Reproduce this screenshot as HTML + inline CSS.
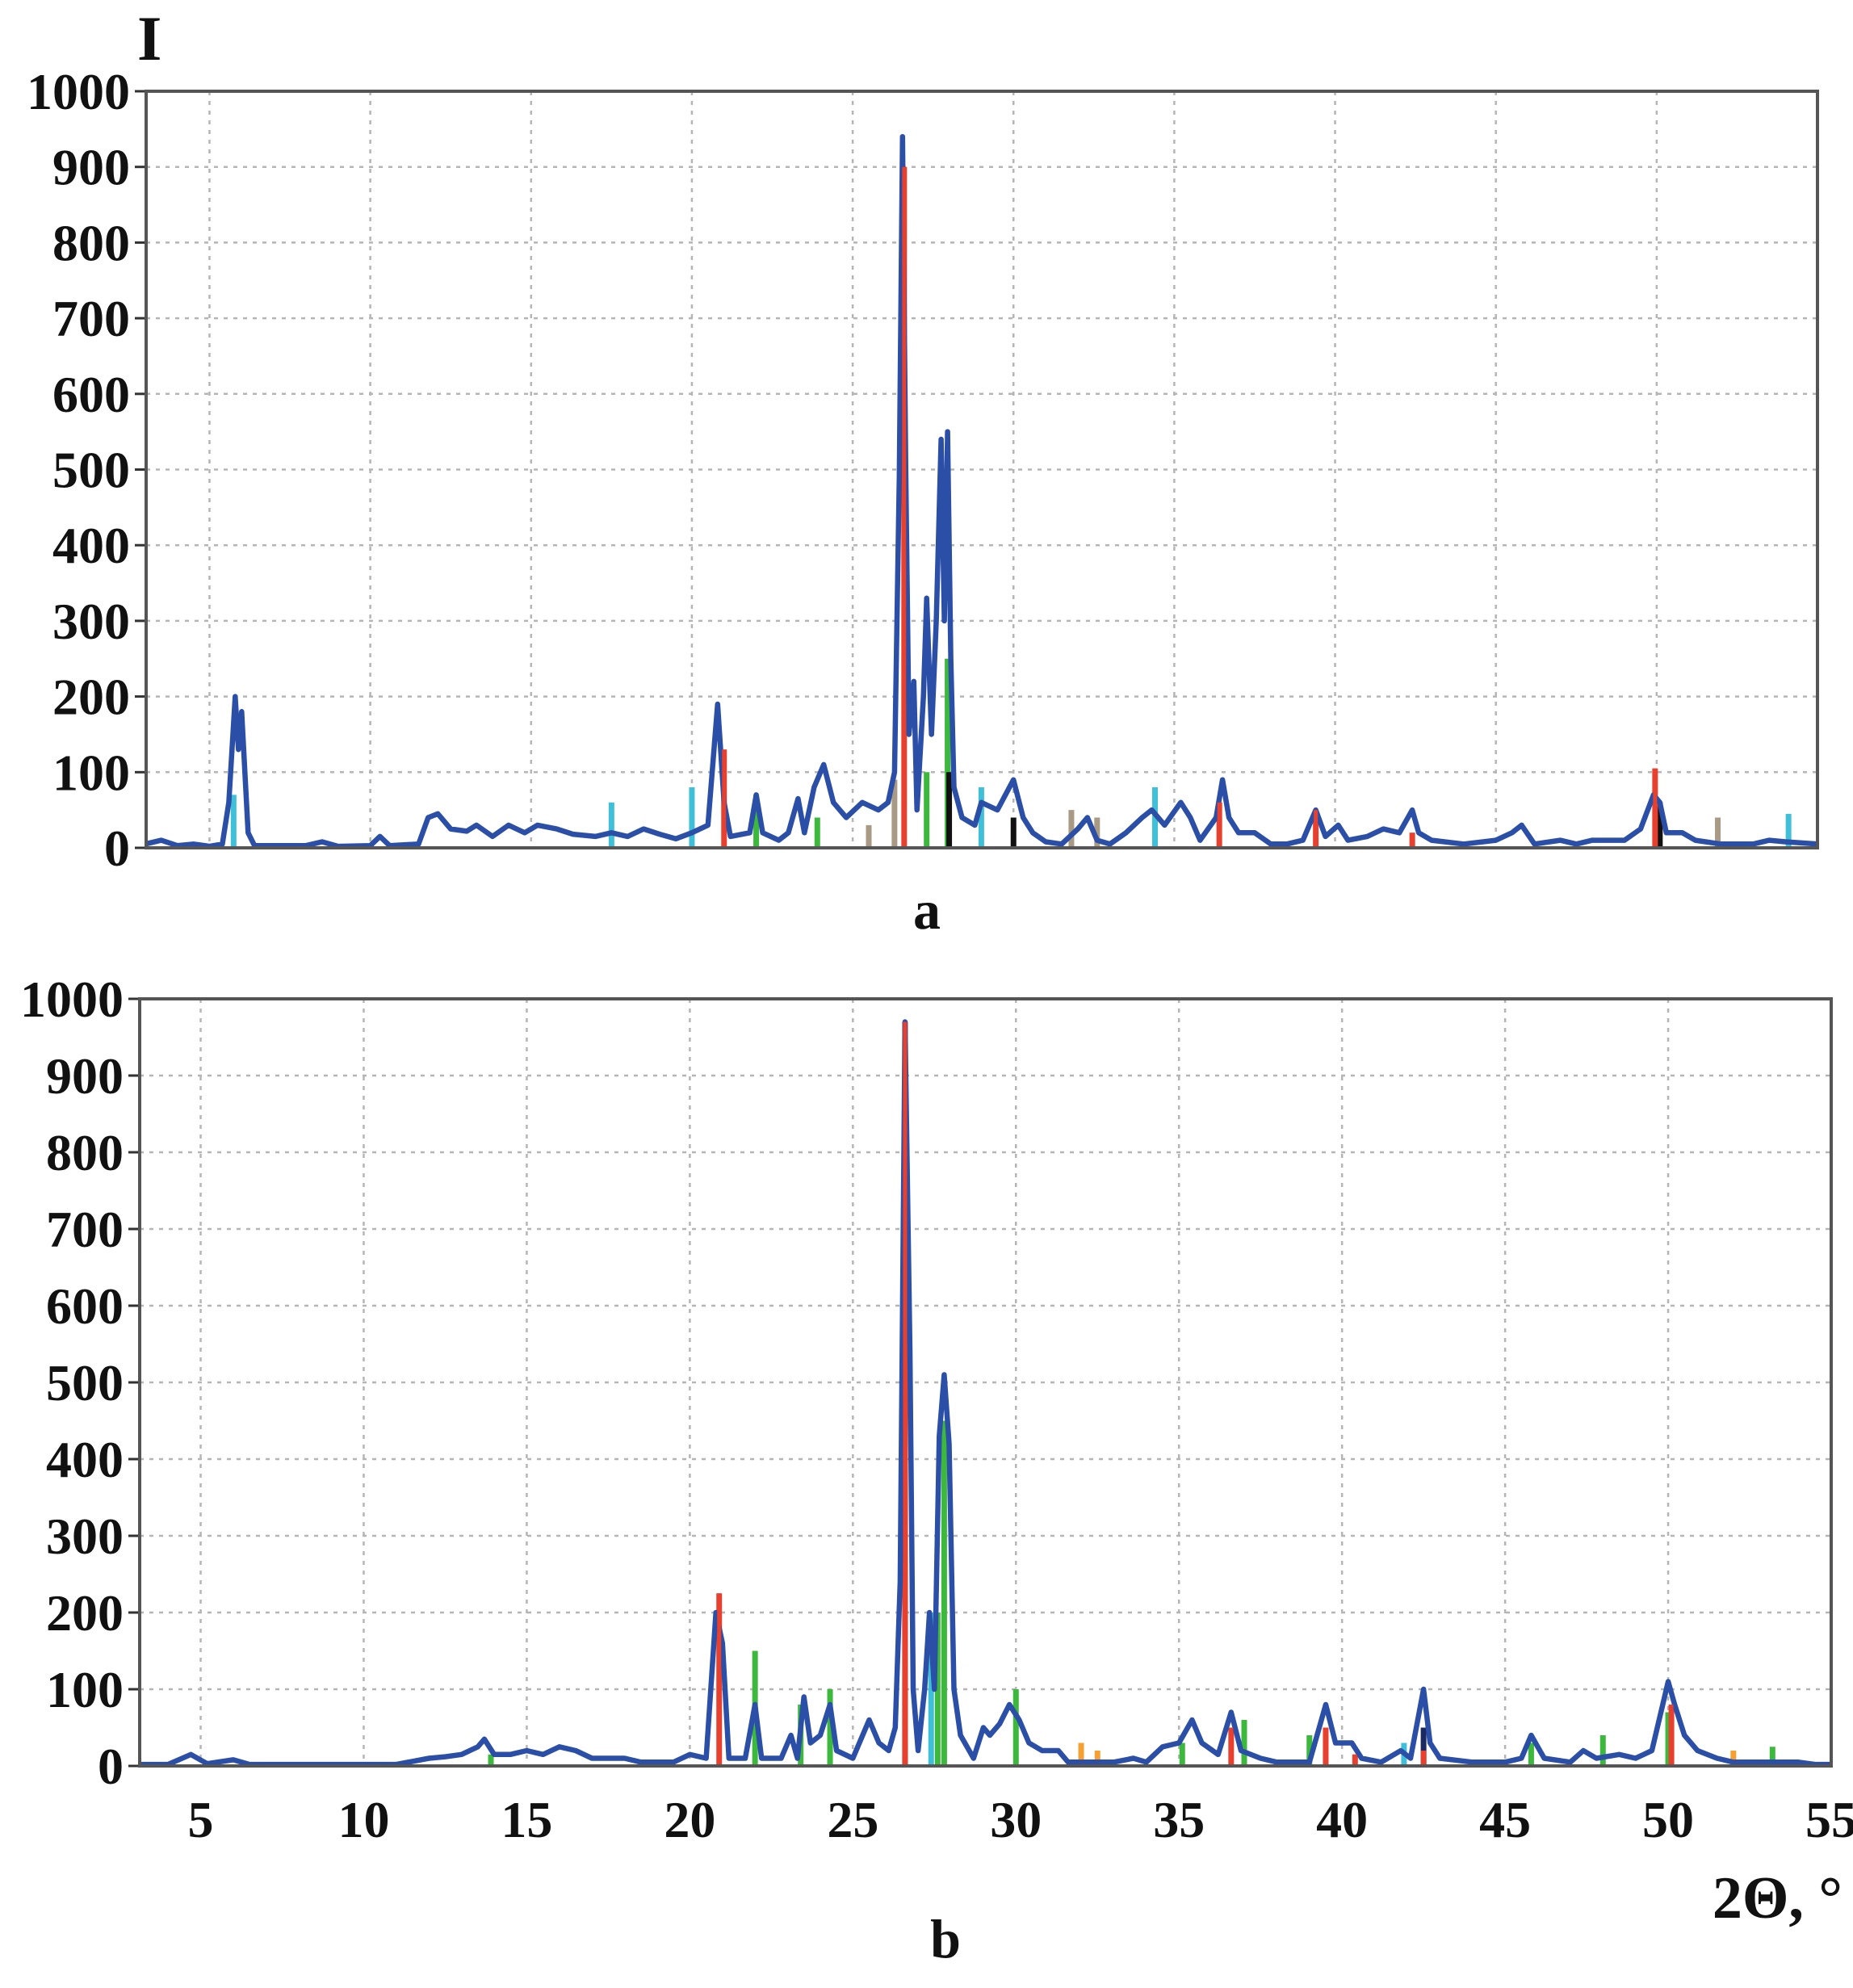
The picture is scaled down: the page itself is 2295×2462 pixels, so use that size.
<!DOCTYPE html>
<html><head><meta charset="utf-8">
<style>
html,body{margin:0;padding:0;background:#fff;}
svg{display:block;}
text{font-family:"Liberation Serif",serif;font-weight:bold;fill:#111;}
</style></head>
<body>
<svg id="chart" width="2295" height="2462" viewBox="0 0 2295 2462" xmlns="http://www.w3.org/2000/svg">
<text x="170" y="74" font-size="78">I</text>
<text x="1148" y="1150" font-size="68" text-anchor="middle">a</text>
<text x="1171" y="2424" font-size="68" text-anchor="middle">b</text>
<text x="2282" y="2375" font-size="74" text-anchor="end">2Θ, °</text>
</svg>
<script>
const yTicks=[0,100,200,300,400,500,600,700,800,900,1000];
const xTicks=[5,10,15,20,25,30,35,40,45,50,55];
// Panel a profile
const aX=[3.0,3.5,4.0,4.5,5.0,5.4,5.6,5.8,5.9,6.0,6.2,6.4,8,8.5,9,10,10.3,10.6,11.5,11.8,12.1,12.5,13,13.3,13.8,14.3,14.8,15.2,15.8,16.3,17,17.5,18,18.5,19,19.5,20,20.5,20.8,21.0,21.2,21.8,22.0,22.2,22.7,23.0,23.3,23.5,23.8,24.1,24.4,24.8,25.3,25.8,26.1,26.3,26.45,26.55,26.65,26.75,26.9,27.0,27.2,27.3,27.45,27.6,27.75,27.85,27.95,28.05,28.15,28.4,28.8,29.0,29.5,30.0,30.3,30.6,31,31.5,32,32.3,32.6,33,33.5,34,34.3,34.7,35.2,35.5,35.8,36.3,36.5,36.7,37,37.5,38,38.5,39.0,39.4,39.7,40.1,40.4,41,41.5,42,42.4,42.6,43,44,45,45.5,45.8,46.2,47,47.5,48,49,49.5,49.9,50.1,50.3,50.8,51.2,52,53,53.5,54,55];
const aY=[5,10,3,5,2,5,60,200,130,180,20,3,3,8,2,3,15,3,5,40,45,25,22,30,15,30,20,30,25,18,15,20,15,25,18,12,20,30,190,60,15,20,70,20,10,20,65,20,80,110,60,40,60,50,60,100,490,940,500,150,220,50,200,330,150,300,540,300,550,250,80,40,30,60,50,90,40,20,8,5,25,40,10,5,20,40,50,30,60,40,10,40,90,40,20,20,5,5,10,50,15,30,10,15,25,20,50,20,10,5,10,20,30,5,10,5,10,10,25,70,60,20,20,10,5,5,10,8,5];
const aRedX=[21.0,26.6,36.4,39.4,42.4,49.95];
const aRedY=[130,900,60,50,20,105];
const aGreenX=[22.0,23.9,27.95,27.3];
const aGreenY=[70,40,250,100];
const aCyanX=[5.75,17.5,20.0,29.0,34.4,54.1];
const aCyanY=[70,60,80,80,80,45];
const aGrayX=[25.5,26.3,31.8,32.6,51.9];
const aGrayY=[30,90,50,40,40];
const aBlackX=[28.0,30.0,50.1];
const aBlackY=[100,40,60];
// Panel b profile
const bX=[3.1,4,4.7,5.2,6,6.5,8,9,10,11,12,12.5,13,13.5,13.7,14,14.5,15,15.5,16,16.5,17,18,18.5,19.5,20,20.5,20.8,21.0,21.2,21.7,22.0,22.2,22.8,23.1,23.3,23.5,23.7,24.0,24.3,24.5,25,25.5,25.8,26.1,26.3,26.45,26.6,26.75,26.85,27.0,27.2,27.35,27.5,27.65,27.8,27.95,28.1,28.3,28.7,29.0,29.2,29.5,29.8,30.1,30.4,30.8,31.3,31.6,32,33,33.6,34,34.5,35,35.4,35.7,36.2,36.6,36.9,37.5,38,39,39.5,39.8,40.3,40.6,41.2,41.8,42.1,42.5,42.7,43,44,45,45.5,45.8,46.2,47,47.4,47.8,48.5,49,49.5,50.0,50.2,50.5,50.9,51.5,52,53,54,54.5,55];
const bY=[2,2,15,3,8,2,2,2,2,2,10,12,15,25,35,15,15,20,15,25,20,10,10,5,5,15,10,200,160,10,10,80,10,10,40,10,90,30,40,80,20,10,60,30,20,50,240,970,540,100,20,100,200,100,430,510,420,100,40,10,50,40,55,80,60,30,20,20,5,5,5,10,5,25,30,60,30,15,70,20,10,5,5,80,30,30,10,5,20,10,100,30,10,5,5,10,40,10,5,20,10,15,10,20,110,80,40,20,10,5,5,5,2,2];
const bRedX=[20.9,26.6,36.6,39.5,42.5,50.1,40.4];
const bRedY=[225,970,50,50,20,80,15];
const bGreenX=[22.0,23.4,24.3,27.8,27.6,30.0,35.1,37.0,39.0,45.8,48.0,50.0,53.2,13.9];
const bGreenY=[150,80,100,450,200,100,30,60,40,30,40,70,25,15];
const bCyanX=[27.4,41.9];
const bCyanY=[200,30];
const bOrangeX=[32.0,32.5,52.0];
const bOrangeY=[30,20,20];
const bBlackX=[26.6,42.5];
const bBlackY=[700,50];

const NS="http://www.w3.org/2000/svg";
const svg=document.getElementById('chart');
function mk(tag,attrs,parent){const e=document.createElementNS(NS,tag);for(const k in attrs)e.setAttribute(k,attrs[k]);(parent||svg).appendChild(e);return e;}

function panel(p){
  const g=mk('g',{});
  
  
  const sx=v=>p.L+(v-p.x0)/(p.x1-p.x0)*(p.R-p.L);
  const sy=v=>p.B-v/1000*(p.B-p.T);
  yTicks.forEach(t=>{
    if(t>0&&t<1000){const l=mk('line',{x1:p.L,x2:p.R,y1:sy(t),y2:sy(t),stroke:'#b5b5b5','stroke-width':2.5,'stroke-dasharray':'5 7'},g);
    
    }
    const tk=mk('line',{x1:p.L-14,x2:p.L,y1:sy(t),y2:sy(t),stroke:'#333','stroke-width':3},g);
    
    
    const tx=mk('text',{x:p.L-20,y:sy(t)+22,'font-size':64,'text-anchor':'end'},g);
    
    
    tx.textContent=t;
  });
  xTicks.forEach(t=>{
    if(t<55){const l=mk('line',{x1:sx(t),x2:sx(t),y1:p.T,y2:p.B,stroke:'#b5b5b5','stroke-width':2.5,'stroke-dasharray':'5 7'},g);
    
    }
    if(p.labels){const tx=mk('text',{x:sx(t),y:p.B+88,'font-size':64,'text-anchor':'middle'},g);
    
    
    tx.textContent=t;}
  });
  const bl=mk('line',{x1:p.L,x2:p.R,y1:p.B,y2:p.B,stroke:'#222','stroke-width':4},g);
  
  
  p.sticks.forEach(s=>{
    s.x.forEach((x,i)=>{
      const l=mk('line',{x1:sx(x),x2:sx(x),y1:p.B,y2:sy(s.y[i]),stroke:s.c,'stroke-width':7},g);
      
      
    });
  });
  const d=p.px.map((x,i)=>(i?'L':'M')+sx(x).toFixed(1)+' '+sy(p.py[i]).toFixed(1)).join(' ');
  const path=mk('path',{d:d,fill:'none',stroke:'#2b4fa6','stroke-width':6.5,'stroke-linejoin':'round'},g);
  
  
  p.sticks.filter(s=>s.top).forEach(s=>{
    s.x.forEach((x,i)=>{
      const l=mk('line',{x1:sx(x),x2:sx(x),y1:p.B,y2:sy(s.y[i]),stroke:s.c,'stroke-width':5},g);
      
      
    });
  });
  const fr=mk('rect',{x:p.L,y:p.T,width:p.R-p.L,height:p.B-p.T,fill:'none',stroke:'#555','stroke-width':4},g);
  
  
}
panel({name:'panel-a',L:181,R:2251,T:113,B:1050,x0:3.03,x1:55,px:aX,py:aY,labels:false,
 sticks:[{x:aGrayX,y:aGrayY,c:'#a89a84',n:'gray'},{x:aCyanX,y:aCyanY,c:'#3fc0d8',n:'cyan'},{x:aGreenX,y:aGreenY,c:'#3cb83c',n:'green'},{x:aBlackX,y:aBlackY,c:'#111',n:'black'},{x:aRedX,y:aRedY,c:'#e8402e',n:'red',top:true}]});
panel({name:'panel-b',L:173,R:2268,T:1237,B:2187,x0:3.13,x1:55,px:bX,py:bY,labels:true,
 sticks:[{x:bOrangeX,y:bOrangeY,c:'#f5a030',n:'orange'},{x:bCyanX,y:bCyanY,c:'#3fc0d8',n:'cyan'},{x:bGreenX,y:bGreenY,c:'#3cb83c',n:'green'},{x:bBlackX,y:bBlackY,c:'#1a2a60',n:'black'},{x:bRedX,y:bRedY,c:'#e8402e',n:'red',top:true}]});
</script>
</body></html>
